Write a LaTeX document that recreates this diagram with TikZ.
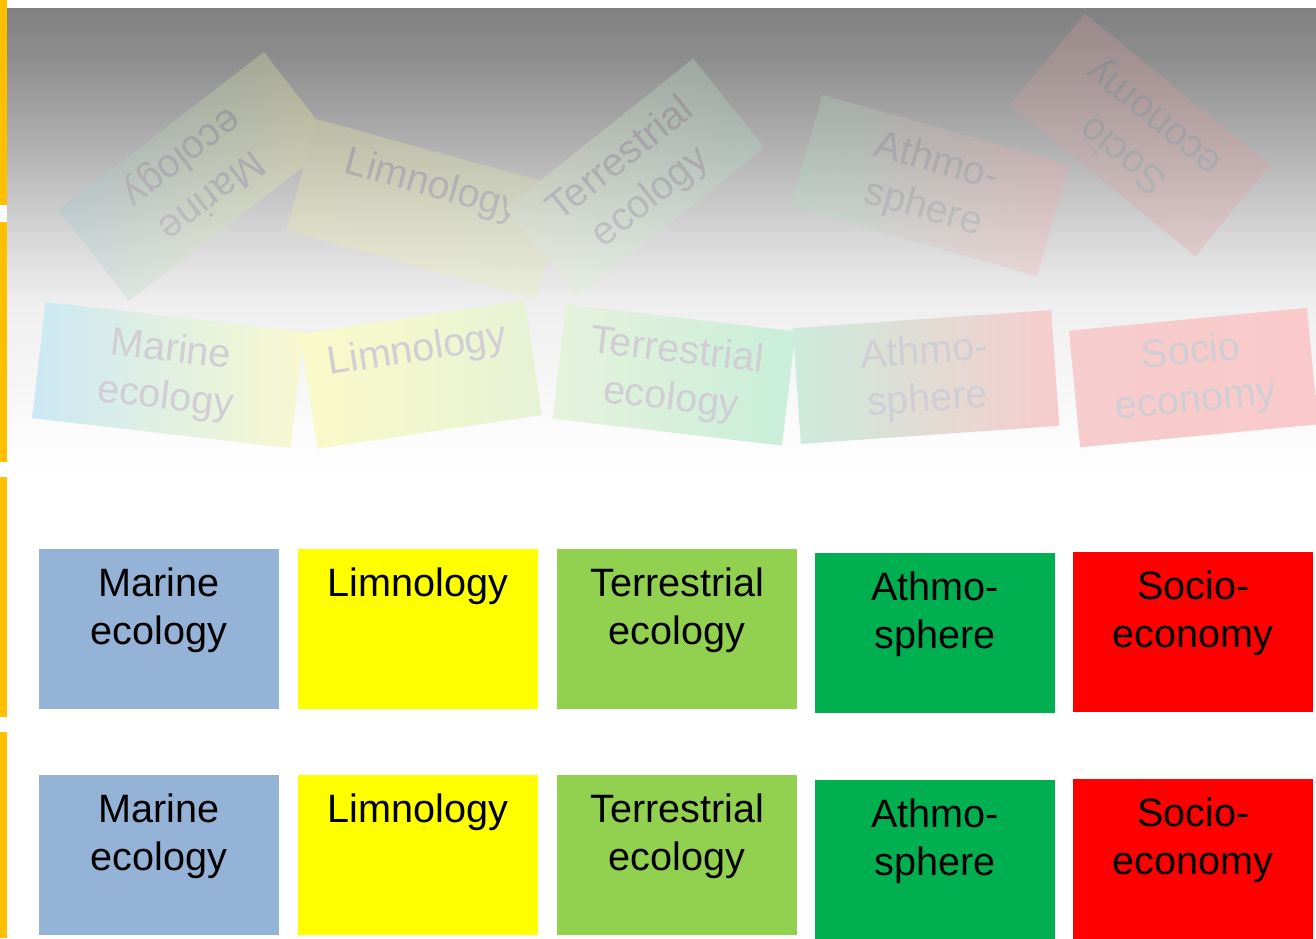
\documentclass[tikz,border=0pt]{standalone}
\usepackage{fontspec}
\setmainfont{Liberation Sans}
\usetikzlibrary{calc}

% solid panel colours
\definecolor{barorange}{HTML}{FFC000}
\definecolor{marineblue}{HTML}{95B3D7}
\definecolor{limnyellow}{HTML}{FFFF00}
\definecolor{terrgreen}{HTML}{92D050}
\definecolor{athmogreen}{HTML}{00B050}
\definecolor{sociored}{HTML}{FF0000}

% steps of the grey backdrop
\definecolor{gA}{RGB}{128,128,128}
\definecolor{gB}{RGB}{142,142,142}
\definecolor{gC}{RGB}{178,178,178}
\definecolor{gD}{RGB}{212,212,212}
\definecolor{gE}{RGB}{238,238,238}
\definecolor{gF}{RGB}{248,248,248}
\definecolor{gG}{RGB}{255,255,255}

% faded copies: upper (translucent layer) and lower row
\definecolor{uMarL}{RGB}{157,197,210}
\definecolor{uMarR}{RGB}{255,255,158}
\definecolor{uLimL}{RGB}{243,243,163}
\definecolor{uLimR}{RGB}{225,240,170}
\definecolor{uTerL}{RGB}{235,250,205}
\definecolor{uTerR}{RGB}{183,223,209}
\definecolor{uAthL}{RGB}{172,225,198}
\definecolor{uAthR}{RGB}{250,163,170}
\definecolor{uSocL}{RGB}{214,162,164}
\definecolor{uSocR}{RGB}{228,152,157}
\definecolor{uText}{RGB}{140,138,150}

\definecolor{lMarL}{RGB}{203,232,243}
\definecolor{lMarR}{RGB}{248,248,208}
\definecolor{lLimL}{RGB}{250,250,200}
\definecolor{lLimR}{RGB}{230,242,214}
\definecolor{lTerL}{RGB}{230,242,220}
\definecolor{lTerR}{RGB}{200,238,218}
\definecolor{lAthL}{RGB}{204,235,220}
\definecolor{lAthR}{RGB}{246,204,204}
\definecolor{lSocL}{RGB}{246,204,204}
\definecolor{lSocR}{RGB}{250,202,202}
\definecolor{lText}{RGB}{208,206,212}

\tikzset{
  solidbox/.style={minimum width=240pt, minimum height=160pt, inner sep=0pt,
    draw=none, anchor=north west},
  boxtext/.style={font=\fontsize{39.6}{48}\selectfont, align=center,
    inner sep=0pt, anchor=north, text=black},
  fadebox/.style={inner sep=0pt, draw=none},
  fadetext/.style={font=\fontsize{39.6}{48}\selectfont, align=center,
    inner sep=0pt, anchor=north, text=ftxt},
  sidebar/.style={fill=barorange, draw=none}
}

% a coloured panel with its label set near the top
\newcommand\solidpanel[4]{%
  \node[solidbox, fill=#3] (#1) at #2 {};
  \node[boxtext] (#1-t) at ($(#1.north)!19pt!(#1.south)$) {#4};
}

% a tilted, shaded copy of a panel: name, centre, angle, width, height,
% left colour, right colour, label
\newcommand\tiltpanel[8]{%
  \begin{scope}[shift={#2}, rotate=#3, transform shape]
    \node[fadebox, minimum width=#4, minimum height=#5,
          left color=#6, right color=#7] (#1) at (0,0) {};
    \node[fadetext] (#1-t) at ($(#1.north)!16pt!(#1.south)$) {#8};
  \end{scope}
}

\begin{document}
\begin{tikzpicture}[x=1pt, y=-1pt]
\useasboundingbox (0,0) rectangle (1316,938);
\fill[white] (0,0) rectangle (1316,938);

% grey backdrop fading to white
\shade[top color=gA, bottom color=gB] (7,8)   rectangle (1316,60.5);
\shade[top color=gB, bottom color=gC] (7,60)  rectangle (1316,150.5);
\shade[top color=gC, bottom color=gD] (7,150) rectangle (1316,230.5);
\shade[top color=gD, bottom color=gE] (7,230) rectangle (1316,300.5);
\shade[top color=gE, bottom color=gF] (7,300) rectangle (1316,400.5);
\shade[top color=gF, bottom color=gG] (7,400) rectangle (1316,470);

% orange side bars
\fill[sidebar] (0,0)   rectangle (6.5,205);
\fill[sidebar] (0,222) rectangle (6.5,462);
\fill[sidebar] (0,477) rectangle (6.5,717);
\fill[sidebar] (0,732) rectangle (6.5,938);

% scattered translucent panels
\colorlet{ftxt}{uText}
\begin{scope}[transparency group, opacity=0.28]
  \tiltpanel{uMar}{(196.5,176.5)}{217.6}{259pt}{115pt}{uMarL}{uMarR}{Marine\\ecology}
  \tiltpanel{uLim}{(426.5,209)}{-15.4}{259pt}{115pt}{uLimL}{uLimR}{Limnology}
  \tiltpanel{uTer}{(635,178)}{38.6}{240pt}{114pt}{uTerL}{uTerR}{Terrestrial\\ecology}
  \tiltpanel{uAth}{(929.75,185.5)}{-15.9}{256pt}{116pt}{uAthL}{uAthR}{Athmo-\\sphere}
  \tiltpanel{uSoc}{(1140,135)}{140.8}{239pt}{118pt}{uSocL}{uSocR}{Socio\\economy}
\end{scope}

% faded row, slightly tilted
\colorlet{ftxt}{lText}
\tiltpanel{lMar}{(168,375)}{-6.6}{260pt}{117pt}{lMarL}{lMarR}{Marine\\ecology}
\tiltpanel{lLim}{(421,374.5)}{8.6}{227pt}{116pt}{lLimL}{lLimR}{Limnology}
\tiltpanel{lTer}{(674,375)}{-6.7}{231pt}{115pt}{lTerL}{lTerR}{Terrestrial\\ecology}
\tiltpanel{lAth}{(926,377)}{4.0}{259pt}{116pt}{lAthL}{lAthR}{Athmo-\\sphere}
\tiltpanel{lSoc}{(1193.5,377.5)}{5.5}{239pt}{117pt}{lSocL}{lSocR}{Socio\\economy}

% first row of panels
\solidpanel{m1}{(39,549)}{marineblue}{Marine\\ecology}
\solidpanel{l1}{(298,549)}{limnyellow}{Limnology}
\solidpanel{t1}{(557,549)}{terrgreen}{Terrestrial\\ecology}
\solidpanel{a1}{(815,553)}{athmogreen}{Athmo-\\sphere}
\solidpanel{s1}{(1073,552)}{sociored}{Socio-\\economy}

% second row of panels
\solidpanel{m2}{(39,775)}{marineblue}{Marine\\ecology}
\solidpanel{l2}{(298,775)}{limnyellow}{Limnology}
\solidpanel{t2}{(557,775)}{terrgreen}{Terrestrial\\ecology}
\solidpanel{a2}{(815,780)}{athmogreen}{Athmo-\\sphere}
\solidpanel{s2}{(1073,779)}{sociored}{Socio-\\economy}
\end{tikzpicture}
\end{document}
